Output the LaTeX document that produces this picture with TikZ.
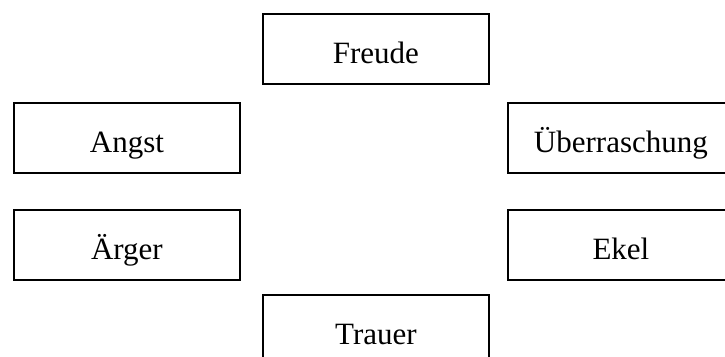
\documentclass[tikz,border=0pt]{standalone}
\usepackage{fontspec}
\setmainfont{Liberation Serif}
\begin{document}
\begin{tikzpicture}[x=1pt,y=1pt,
  emo/.style={draw=black, line width=1.8pt, anchor=north west, inner xsep=0pt, inner ysep=0pt,
    minimum width=226pt, text height=50pt, text depth=20pt, align=center,
    font=\fontsize{31pt}{37pt}\selectfont}]
\useasboundingbox (0,0) rectangle (725,356);
\clip (0,0) rectangle (725,356);
\node[emo] (freude) at (262,343) {Freude};
\node[emo] (angst) at (13,254) {Angst};
\node[emo] (ueber) at (507,254) {Überraschung};
\node[emo] (aerger) at (13,147) {Ärger};
\node[emo] (ekel) at (507,147) {Ekel};
\node[emo] (trauer) at (262,62) {Trauer};
\end{tikzpicture}
\end{document}
